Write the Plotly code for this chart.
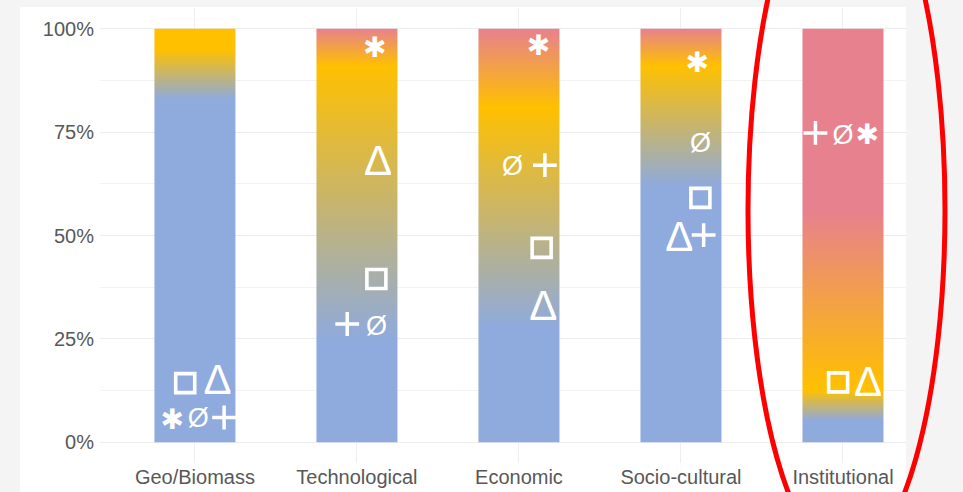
import plotly.graph_objects as go

# ---------------- data ----------------
categories = ["Geo/Biomass", "Technological", "Economic", "Socio-cultural", "Institutional"]

BLUE = "#8FAADC"
YELLOW = "#FFC000"
RED = "#E7818E"

# vertical colour gradient of each bar: stop positions (%) and colours
grad_pos = [
    [0, 83, 95, 100],
    [0, 25, 91, 100],
    [0, 28, 81, 100],
    [0, 62, 91, 100],
    [0, 5.3, 12.6, 56, 100],
]
grad_col = [
    [BLUE, BLUE, YELLOW, YELLOW],
    [BLUE, BLUE, YELLOW, RED],
    [BLUE, BLUE, YELLOW, RED],
    [BLUE, BLUE, YELLOW, RED],
    [BLUE, BLUE, YELLOW, RED, RED],
]

# symbols: value (%) per category and horizontal dodge within bar
square_y = [14.3, 39.5, 47.0, 59.1, 14.5]
square_dx = [-0.06, 0.12, 0.14, 0.12, -0.03]
delta_y = [14.3, 67.1, 32.0, 48.9, 13.8]
delta_dx = [0.14, 0.13, 0.15, -0.01, 0.155]
plus_y = [6.0, 28.6, 67.0, 50.1, 74.8]
plus_dx = [0.18, -0.06, 0.16, 0.14, -0.17]
oslash_y = [5.4, 27.5, 66.2, 71.8, 73.8]
oslash_dx = [0.02, 0.12, -0.04, 0.12, 0.0]
star_y = [5.0, 94.8, 95.3, 91.2, 73.7]
star_dx = [-0.14, 0.11, 0.12, 0.10, 0.15]

y_ticks = [0, 25, 50, 75, 100]
y_ticktext = ["0%", "25%", "50%", "75%", "100%"]
y_minor = [12.5, 37.5, 62.5, 87.5]

BAR_HALF = 0.25
FONT = "Liberation Sans, Arial, sans-serif"

fig = go.Figure()

# ---------------- gradient bars ----------------
for i, cat in enumerate(categories):
    xs = [i - BAR_HALF, i + BAR_HALF, i + BAR_HALF, i - BAR_HALF, i - BAR_HALF]
    ys = [0, 0, 100, 100, 0]
    cs = [[p / 100.0, c] for p, c in zip(grad_pos[i], grad_col[i])]
    fig.add_trace(go.Scatter(
        x=xs, y=ys, mode="lines", fill="toself",
        line=dict(width=0, color="rgba(0,0,0,0)"),
        fillgradient=dict(type="vertical", colorscale=cs, start=0, stop=100),
        hoverinfo="skip", showlegend=False, name=cat,
    ))

xi = list(range(len(categories)))

def xpos(dx):
    return [a + b for a, b in zip(xi, dx)]

# squares (markers)
fig.add_trace(go.Scatter(
    x=xpos(square_dx), y=square_y, mode="markers",
    marker=dict(symbol="square-open", size=19, color="white", line=dict(width=3.6, color="white")),
    hoverinfo="skip", showlegend=False))

# plus (markers)
fig.add_trace(go.Scatter(
    x=xpos(plus_dx), y=plus_y, mode="markers",
    marker=dict(symbol="cross-thin-open", size=17, color="white", line=dict(width=3.5, color="white")),
    hoverinfo="skip", showlegend=False))

# delta (text)
fig.add_trace(go.Scatter(
    x=xpos(delta_dx), y=delta_y, mode="text", text=["Δ"] * 5,
    textposition="middle center",
    textfont=dict(family=FONT, size=42, color="white"),
    hoverinfo="skip", showlegend=False))

# O-slash (text)
fig.add_trace(go.Scatter(
    x=xpos(oslash_dx), y=oslash_y, mode="text", text=["Ø"] * 5,
    textposition="middle center",
    textfont=dict(family="Liberation Sans, Arial, sans-serif", size=27, color="white"),
    hoverinfo="skip", showlegend=False))

# heavy asterisk (text)
fig.add_trace(go.Scatter(
    x=xpos(star_dx), y=star_y, mode="text", text=["✱"] * 5,
    textposition="middle center",
    textfont=dict(family="DejaVu Sans, sans-serif", size=28, color="white"),
    hoverinfo="skip", showlegend=False))

# ---------------- layout ----------------
W, H = 963, 492
ml, mr, mt, mb = 100, 57, 8, 29
pw, ph = W - ml - mr, H - mt - mb

def px2paper_x(px):
    return (px - ml) / pw

def px2paper_y(py):
    return (H - mb - py) / ph

fig.update_layout(
    width=W, height=H,
    margin=dict(l=ml, r=mr, t=mt, b=mb, pad=0, autoexpand=False),
    paper_bgcolor="#F4F4F4",
    plot_bgcolor="white",
    showlegend=False,
    xaxis=dict(
        range=[-0.586, 4.389], tickmode="array", tickvals=xi, ticktext=categories,
        showgrid=True, gridcolor="#EFEFEF", gridwidth=1, zeroline=False,
        showline=False, ticks="", fixedrange=True, automargin=False,
        tickfont=dict(family=FONT, size=20, color="#585858"),
    ),
    yaxis=dict(
        range=[-5, 105], tickmode="array", tickvals=y_ticks, ticktext=y_ticktext,
        showgrid=True, gridcolor="#ECECEC", gridwidth=1, zeroline=False,
        showline=False, ticks="", fixedrange=True, automargin=False,
        ticklabelstandoff=5,
        minor=dict(tickmode="array", tickvals=y_minor, showgrid=True, gridcolor="#F3F3F3", gridwidth=1),
        tickfont=dict(family=FONT, size=20, color="#585858"),
    ),
    shapes=[
        # white panel behind the plot
        dict(type="rect", xref="paper", yref="paper", layer="below",
             x0=px2paper_x(20), x1=px2paper_x(906), y0=px2paper_y(495), y1=px2paper_y(7),
             fillcolor="white", line=dict(width=0)),
        # red highlight ellipse around "Institutional"
        dict(type="circle", xref="paper", yref="paper", layer="above",
             x0=px2paper_x(748), x1=px2paper_x(945), y0=px2paper_y(560), y1=px2paper_y(-140),
             line=dict(color="#FF0000", width=5), fillcolor="rgba(0,0,0,0)"),
    ],
)

fig.write_html(
    "out.html",
    config={"displayModeBar": False},
    post_script="document.body.style.margin='0';document.body.style.overflow='hidden';",
)
